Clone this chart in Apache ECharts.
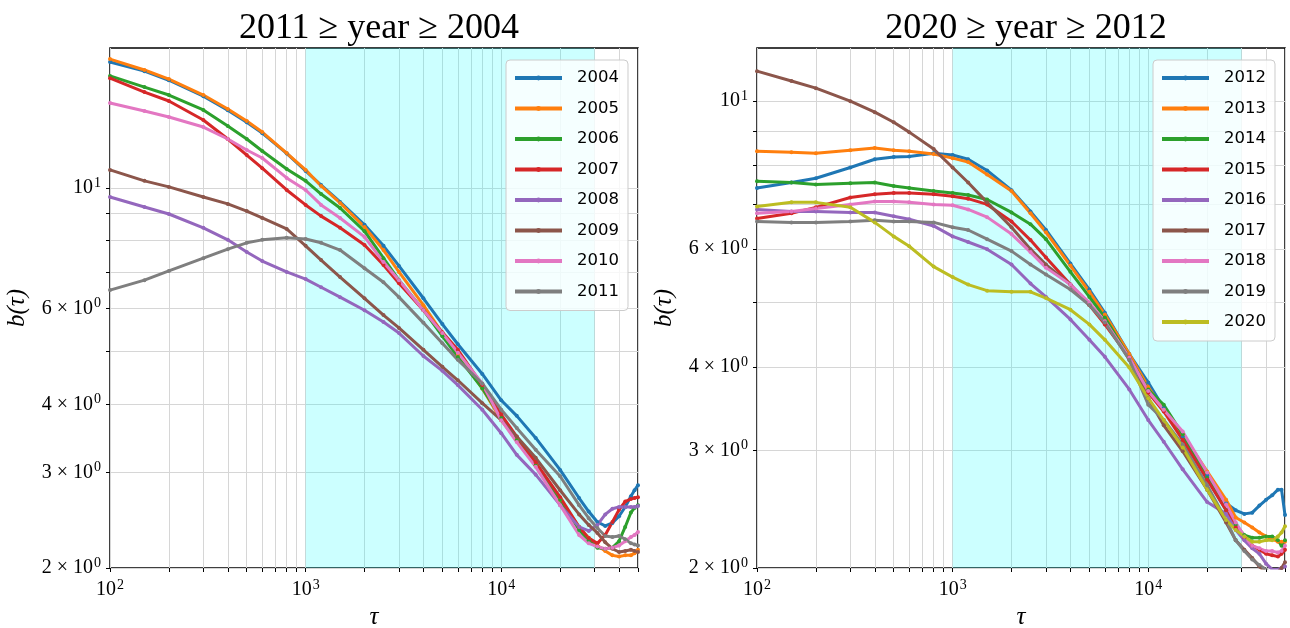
<!DOCTYPE html>
<html>
<head>
<meta charset="utf-8">
<script src="https://cdn.jsdelivr.net/npm/echarts@6/dist/echarts.min.js"></script>
<style>
html, body { margin: 0; padding: 0; background: #fff; }
#chart { width: 1290px; height: 628px; }
</style>
</head>
<body>
<div id="chart"></div>
<script>
// lag values (tau), shared by all curves
const tau = [100, 150, 200, 300, 400, 500, 600, 800, 1000, 1200, 1500, 2000, 2500, 3000, 4000, 5000, 6000, 8000,
	10000, 12000, 15000, 20000, 25000, 28000, 31000, 34000, 37000, 40000, 43000, 46000, 48000, 50000];

const yearsLeft = ['2004', '2005', '2006', '2007', '2008', '2009', '2010', '2011'];
const yearsRight = ['2012', '2013', '2014', '2015', '2016', '2017', '2018', '2019', '2020'];

const b2004 = [17.06, 16.41, 15.79, 14.76, 13.91, 13.21, 12.62, 11.58, 10.75, 10.13, 9.43, 8.56, 7.83, 7.19, 6.27, 5.62, 5.16, 4.55, 4.07, 3.81, 3.47, 3.03, 2.69, 2.54, 2.43, 2.39, 2.42, 2.49, 2.59, 2.71, 2.78, 2.84];
const b2005 = [17.27, 16.49, 15.87, 14.83, 13.98, 13.28, 12.68, 11.60, 10.80, 10.09, 9.39, 8.48, 7.69, 7.01, 6.09, 5.41, 4.93, 4.28, 3.74, 3.44, 3.09, 2.67, 2.38, 2.27, 2.20, 2.15, 2.11, 2.10, 2.11, 2.11, 2.13, 2.16];
const b2006 = [16.08, 15.34, 14.83, 13.92, 13.01, 12.31, 11.70, 10.84, 10.31, 9.75, 9.19, 8.33, 7.43, 6.77, 5.96, 5.34, 4.89, 4.28, 3.78, 3.44, 3.09, 2.67, 2.35, 2.25, 2.18, 2.17, 2.18, 2.24, 2.38, 2.53, 2.58, 2.61];
const b2007 = [15.93, 15.02, 14.46, 13.34, 12.31, 11.50, 10.88, 9.92, 9.31, 8.88, 8.45, 7.86, 7.22, 6.68, 5.96, 5.43, 5.04, 4.34, 3.83, 3.49, 3.13, 2.70, 2.38, 2.27, 2.22, 2.30, 2.43, 2.56, 2.65, 2.68, 2.69, 2.70];
const b2008 = [9.63, 9.23, 8.96, 8.45, 8.03, 7.63, 7.34, 7.01, 6.80, 6.57, 6.30, 5.96, 5.67, 5.41, 4.91, 4.61, 4.34, 3.91, 3.54, 3.23, 2.97, 2.61, 2.38, 2.34, 2.40, 2.51, 2.57, 2.59, 2.59, 2.59, 2.59, 2.60];
const b2009 = [10.80, 10.31, 10.05, 9.63, 9.35, 9.07, 8.81, 8.41, 7.83, 7.37, 6.86, 6.27, 5.84, 5.53, 5.04, 4.69, 4.43, 4.02, 3.74, 3.49, 3.19, 2.78, 2.51, 2.40, 2.32, 2.23, 2.17, 2.14, 2.15, 2.16, 2.15, 2.14];
const b2010 = [14.34, 13.86, 13.51, 12.95, 12.31, 11.75, 11.36, 10.44, 9.92, 9.31, 8.81, 8.13, 7.31, 6.77, 5.96, 5.41, 4.98, 4.37, 3.74, 3.41, 3.07, 2.61, 2.30, 2.22, 2.19, 2.17, 2.18, 2.20, 2.24, 2.28, 2.30, 2.33];
const b2011 = [6.49, 6.77, 7.04, 7.43, 7.72, 7.93, 8.03, 8.10, 8.06, 7.93, 7.69, 7.12, 6.71, 6.30, 5.65, 5.18, 4.83, 4.37, 3.91, 3.62, 3.30, 2.95, 2.61, 2.47, 2.37, 2.29, 2.28, 2.29, 2.26, 2.22, 2.21, 2.20];

const b2012 = [7.41, 7.55, 7.66, 7.95, 8.18, 8.24, 8.26, 8.35, 8.30, 8.18, 7.87, 7.35, 6.83, 6.41, 5.71, 5.22, 4.82, 4.18, 3.79, 3.47, 3.15, 2.75, 2.50, 2.44, 2.41, 2.42, 2.48, 2.53, 2.57, 2.62, 2.62, 2.40];
const b2013 = [8.41, 8.38, 8.35, 8.44, 8.50, 8.44, 8.41, 8.33, 8.21, 8.10, 7.76, 7.33, 6.79, 6.36, 5.67, 5.18, 4.79, 4.18, 3.73, 3.45, 3.17, 2.79, 2.53, 2.38, 2.34, 2.30, 2.26, 2.23, 2.21, 2.19, 2.19, 2.19];
const b2014 = [7.58, 7.55, 7.50, 7.53, 7.55, 7.46, 7.41, 7.33, 7.28, 7.23, 7.12, 6.81, 6.54, 6.21, 5.55, 5.09, 4.74, 4.13, 3.70, 3.51, 3.17, 2.73, 2.44, 2.32, 2.24, 2.22, 2.22, 2.23, 2.23, 2.20, 2.16, 2.20];
const b2015 = [6.67, 6.79, 6.93, 7.17, 7.25, 7.28, 7.28, 7.25, 7.20, 7.14, 7.00, 6.60, 6.19, 5.83, 5.31, 4.95, 4.63, 4.13, 3.66, 3.43, 3.11, 2.71, 2.44, 2.30, 2.22, 2.16, 2.13, 2.10, 2.09, 2.08, 2.10, 2.13];
const b2016 = [6.88, 6.83, 6.83, 6.81, 6.81, 6.72, 6.65, 6.50, 6.27, 6.15, 6.00, 5.69, 5.33, 5.09, 4.71, 4.39, 4.14, 3.70, 3.33, 3.09, 2.81, 2.51, 2.41, 2.28, 2.20, 2.14, 2.10, 2.03, 1.99, 1.99, 2.00, 2.01];
const b2017 = [11.08, 10.71, 10.45, 9.99, 9.62, 9.29, 8.98, 8.47, 7.95, 7.55, 7.05, 6.47, 6.00, 5.69, 5.31, 4.95, 4.68, 4.10, 3.59, 3.27, 2.99, 2.62, 2.34, 2.20, 2.13, 2.07, 2.01, 1.97, 1.95, 1.97, 2.00, 2.04];
const b2018 = [6.79, 6.83, 6.90, 7.00, 7.07, 7.07, 7.05, 7.00, 6.98, 6.88, 6.70, 6.32, 5.94, 5.63, 5.31, 4.99, 4.68, 4.13, 3.68, 3.45, 3.20, 2.78, 2.49, 2.34, 2.23, 2.16, 2.14, 2.12, 2.12, 2.11, 2.12, 2.16];
const b2019 = [6.60, 6.58, 6.58, 6.60, 6.63, 6.60, 6.60, 6.58, 6.47, 6.41, 6.21, 5.96, 5.69, 5.50, 5.22, 4.95, 4.66, 4.10, 3.51, 3.33, 3.06, 2.66, 2.36, 2.20, 2.12, 2.06, 2.02, 1.99, 1.95, 1.93, 1.92, 1.91];
const b2020 = [6.95, 7.05, 7.05, 6.93, 6.58, 6.27, 6.06, 5.65, 5.45, 5.31, 5.20, 5.18, 5.18, 5.07, 4.87, 4.63, 4.39, 3.99, 3.59, 3.33, 3.03, 2.62, 2.36, 2.28, 2.23, 2.19, 2.19, 2.20, 2.20, 2.23, 2.26, 2.31];

const valuesLeft = [b2004, b2005, b2006, b2007, b2008, b2009, b2010, b2011];
const valuesRight = [b2012, b2013, b2014, b2015, b2016, b2017, b2018, b2019, b2020];

// tick positions
const xTicks = [100, 200, 300, 400, 500, 600, 700, 800, 900, 1000, 2000, 3000, 4000, 5000, 6000, 7000, 8000, 9000, 10000, 20000, 30000, 40000, 50000];
const xLabels = [100, 1000, 10000];
const yTicks = [2, 3, 4, 5, 6, 7, 8, 9, 10];
const yLabels = [2, 3, 4, 6, 10];
const shadeRange = [1000, 30000];

const palette = ['#1f77b4', '#ff7f0e', '#2ca02c', '#d62728', '#9467bd', '#8c564b', '#e377c2', '#7f7f7f', '#bcbd22'];
const serif = '"Liberation Serif", "DejaVu Serif", serif';

const sup = { sup: { fontSize: 14, fontFamily: serif, color: '#000', padding: [0, 0, 10, 1] } };

const makeX = (idx) => ({
	type: 'log',
	logBase: 10,
	gridIndex: idx,
	min: 100,
	max: 50000,
	name: 'τ',
	nameLocation: 'middle',
	nameGap: 33,
	nameTextStyle: { fontFamily: serif, fontStyle: 'italic', fontSize: 25, color: '#000' },
	axisLine: { show: false },
	axisTick: { show: true, length: 4, customValues: xTicks, lineStyle: { color: '#000' } },
	axisLabel: {
		customValues: xLabels,
		margin: 10,
		fontFamily: serif,
		fontSize: 20,
		color: '#000',
		formatter: (v) => '10{sup|' + Math.round(Math.log10(v)) + '}',
		rich: sup
	},
	splitLine: { show: true, lineStyle: { color: '#d6d6d6', width: 1 } }
});

const makeY = (idx, max) => ({
	type: 'log',
	logBase: 10,
	gridIndex: idx,
	min: 2,
	max: max,
	name: 'b(τ)',
	nameLocation: 'middle',
	nameGap: 80,
	nameRotate: 90,
	nameTextStyle: { fontFamily: serif, fontStyle: 'italic', fontSize: 25, color: '#000' },
	axisLine: { show: false },
	axisTick: { show: true, length: 4, customValues: yTicks, lineStyle: { color: '#000' } },
	axisLabel: {
		customValues: yLabels,
		margin: 9,
		fontFamily: serif,
		fontSize: 20,
		color: '#000',
		formatter: (v) => (v === 10 ? '10{sup|1}' : v + ' × 10{sup|0}'),
		rich: sup
	},
	splitLine: { show: true, lineStyle: { color: '#d6d6d6', width: 1 } }
});

const makeSeries = (names, values, idx) => names.map((name, i) => ({
	name: name,
	type: 'line',
	xAxisIndex: idx,
	yAxisIndex: idx,
	z: 3,
	data: tau.map((t, k) => [t, values[i][k]]),
	symbol: 'circle',
	symbolSize: 4,
	showSymbol: true,
	clip: true,
	itemStyle: { color: palette[i] },
	lineStyle: { color: palette[i], width: 3 }
}));

// cyan band, kept on a helper series so it sits under the curves
const makeShade = (idx) => ({
	name: 'shade' + idx,
	type: 'line',
	xAxisIndex: idx,
	yAxisIndex: idx,
	z: 1,
	data: [],
	markArea: {
		silent: true,
		itemStyle: { color: 'rgba(0, 255, 255, 0.2)' },
		data: [[{ xAxis: shadeRange[0] }, { xAxis: shadeRange[1] }]]
	}
});

const makeLegend = (names, left) => ({
	data: names,
	orient: 'vertical',
	left: left,
	top: 60,
	itemWidth: 47,
	itemHeight: 6,
	itemGap: 12.5,
	padding: [9, 9, 10, 7],
	backgroundColor: 'rgba(255, 255, 255, 0.8)',
	borderColor: '#cccccc',
	borderWidth: 1,
	borderRadius: 4,
	lineStyle: { width: 4 },
	textStyle: { fontFamily: '"DejaVu Sans", sans-serif', fontSize: 16.5, lineHeight: 18, color: '#000', padding: [0, 0, 0, 10] }
});

const gridBox = { width: 528, height: 520, top: 48, show: true, borderColor: '#000', borderWidth: 1.5, backgroundColor: '#fff', outerBoundsMode: 'none', containLabel: false };

const chart = echarts.init(document.getElementById('chart'), null, { renderer: 'canvas' });
chart.setOption({
	animation: false,
	backgroundColor: '#fff',
	title: [
		{ text: '2011 ≥ year ≥ 2004', left: 374, top: 6, textAlign: 'center', textStyle: { fontFamily: serif, fontWeight: 'normal', fontSize: 36, color: '#000' } },
		{ text: '2020 ≥ year ≥ 2012', left: 1021, top: 6, textAlign: 'center', textStyle: { fontFamily: serif, fontWeight: 'normal', fontSize: 36, color: '#000' } }
	],
	grid: [
		Object.assign({ left: 110 }, gridBox),
		Object.assign({ left: 757 }, gridBox)
	],
	xAxis: [makeX(0), makeX(1)],
	yAxis: [makeY(0, 18.1), makeY(1, 12.0)],
	legend: [makeLegend(yearsLeft, 506), makeLegend(yearsRight, 1153)],
	series: [
		makeShade(0),
		makeShade(1),
		...makeSeries(yearsLeft, valuesLeft, 0),
		...makeSeries(yearsRight, valuesRight, 1)
	]
});
</script>
</body>
</html>
